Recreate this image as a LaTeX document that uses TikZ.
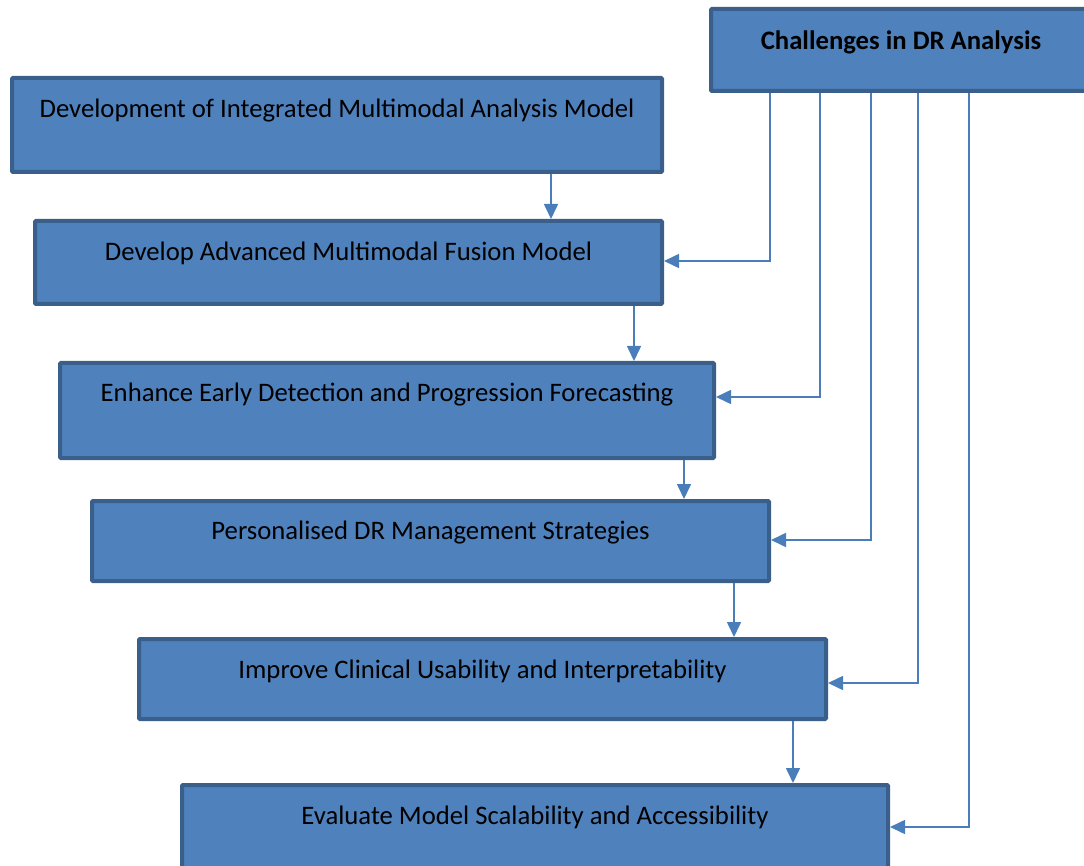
\documentclass[tikz,border=0pt]{standalone}
\usepackage{fontspec}
\setmainfont{Carlito}
\usetikzlibrary{arrows.meta}
\definecolor{boxfill}{HTML}{4F81BD}
\definecolor{boxline}{HTML}{3A5F8B}
\definecolor{linkcol}{HTML}{4A7EBB}
\tikzset{
	stage/.style={draw=boxline,fill=boxfill,line width=4pt,rounded corners=1pt,anchor=north west,inner sep=0pt},
	link/.style={draw=linkcol,line width=1.6pt,-{Triangle[length=15pt,width=14pt]}},
}
\begin{document}
\begin{tikzpicture}[x=1pt,y=-1pt,font=\fontsize{26.7}{31}\selectfont]
	\clip(0,0)rectangle(1084,866);
	\node[stage,minimum width=379pt,minimum height=82pt](ch)at(709,7){};
	\node[font=\fontsize{26.7}{31}\selectfont\bfseries](cht)at(901,42){Challenges in DR Analysis};
	\foreach \i/\l/\t/\r/\b/\y/\txt in{1/10/76/664/174/111/Development of Integrated Multimodal Analysis Model,
		2/33/219/664/306/253/Develop Advanced Multimodal Fusion Model,
		3/58/361/716/460/395/Enhance Early Detection and Progression Forecasting,
		4/90/499/771/583/533/Personalised DR Management Strategies,
		5/137/637/828/721/671/Improve Clinical Usability and Interpretability,
		6/180/783/890/872/817/Evaluate Model Scalability and Accessibility}{
		\pgfmathsetmacro\w{\r-\l-4}
		\pgfmathsetmacro\h{\b-\t-4}
		\pgfmathsetmacro\cx{(\l+\r)/2}
		\node[stage,minimum width=\w pt,minimum height=\h pt](b\i)at(\l,\t){};
		\node(t\i)at(\cx,\y){\txt};
	}
	% steps down the chain
	\foreach \i/\j/\x in{1/2/551,2/3/634,3/4/684,4/5/734,5/6/793}{
		\coordinate(d\i)at(\x,0);
		\draw[link](b\i.south -| d\i)--(b\j.north -| d\i);
	}
	% feeds from the challenges box
	\foreach \i/\x/\y in{2/770/261,3/820/397,4/871/540,5/918/683,6/969/827}{
		\coordinate(f\i)at(\x,\y);
		\draw[link](ch.south -| f\i)|-(b\i.east |- f\i);
	}
\end{tikzpicture}
\end{document}
